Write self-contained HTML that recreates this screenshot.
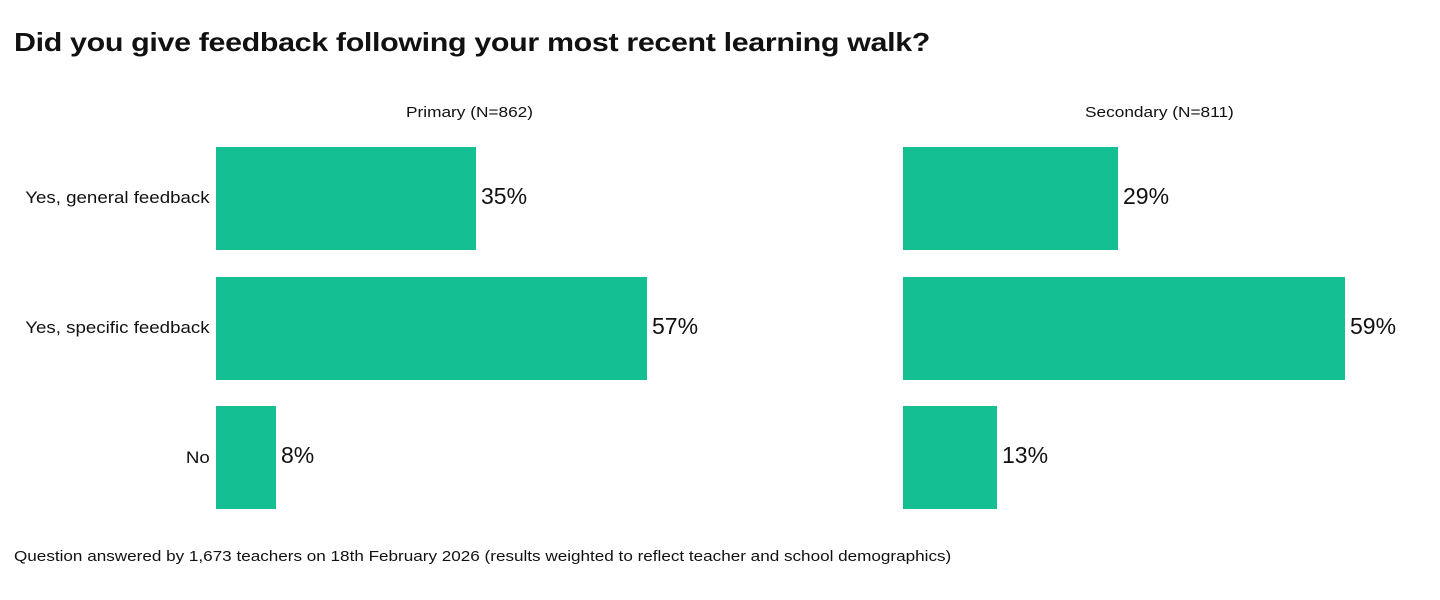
<!DOCTYPE html>
<html><head><meta charset="utf-8"><style>
body{margin:0;width:1440px;height:600px;background:#fff;font-family:"Liberation Sans",sans-serif;color:#111;position:relative;overflow:hidden}
.a{position:absolute;white-space:nowrap;transform-origin:0 0}
.bar{position:absolute;background:#13bf93;height:103px}
.lab{position:absolute;font-size:17px;white-space:nowrap;right:1230px;transform:scaleX(1.1);transform-origin:100% 0}
.val{position:absolute;font-size:23px}
</style></head><body>
<div class="a" style="left:14px;top:27px;font-size:26px;font-weight:bold;letter-spacing:-0.3px;transform:scaleX(1.17)">Did you give feedback following your most recent learning walk?</div>
<div class="a" style="left:406px;top:104px;font-size:15px;transform:scaleX(1.15)">Primary (N=862)</div>
<div class="a" style="left:1085px;top:104px;font-size:15px;transform:scaleX(1.15)">Secondary (N=811)</div>
<div class="lab" style="top:188px">Yes, general feedback</div>
<div class="lab" style="top:318px">Yes, specific feedback</div>
<div class="lab" style="top:448px">No</div>
<div class="bar" style="left:216px;top:147px;width:260px"></div>
<div class="bar" style="left:216px;top:277px;width:431px"></div>
<div class="bar" style="left:216px;top:406px;width:60px"></div>
<div class="bar" style="left:903px;top:147px;width:215px"></div>
<div class="bar" style="left:903px;top:277px;width:442px"></div>
<div class="bar" style="left:903px;top:406px;width:94px"></div>
<div class="val" style="left:481px;top:183px">35%</div>
<div class="val" style="left:652px;top:313px">57%</div>
<div class="val" style="left:281px;top:442px">8%</div>
<div class="val" style="left:1123px;top:183px">29%</div>
<div class="val" style="left:1350px;top:313px">59%</div>
<div class="val" style="left:1002px;top:442px">13%</div>
<div class="a" style="left:14px;top:548px;font-size:15px;transform:scaleX(1.14)">Question answered by 1,673 teachers on 18th February 2026 (results weighted to reflect teacher and school demographics)</div>
</body></html>
